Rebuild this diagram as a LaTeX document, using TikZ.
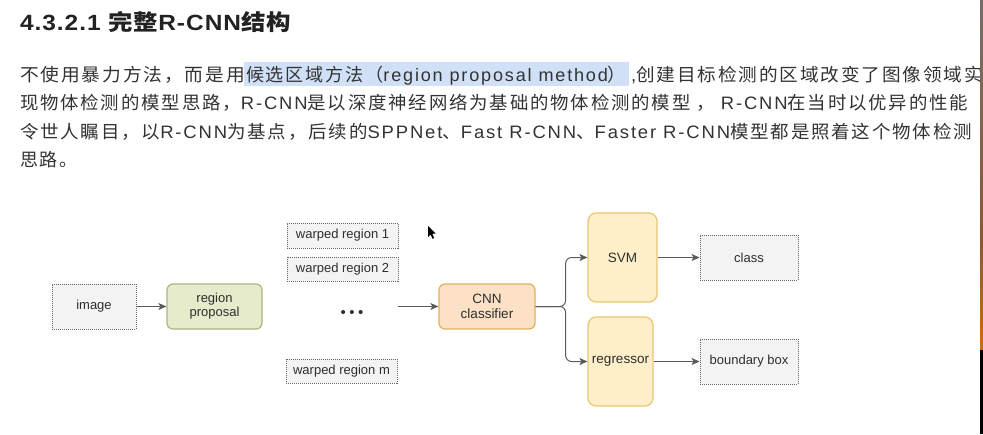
\documentclass[tikz,border=0pt]{standalone}
\usepackage{fontspec}
\usepackage{graphicx}
\setmainfont{Liberation Sans}
\newfontfamily\cjk{Noto Sans CJK SC}[LetterSpace=10]
\newfontfamily\lat{Liberation Sans}[LetterSpace=10]
\newfontfamily\cjkt{Noto Sans CJK SC}[LetterSpace=4]
\newfontfamily\latt{Liberation Sans}[LetterSpace=4]
\usetikzlibrary{arrows.meta}
\definecolor{txt}{HTML}{333333}
\definecolor{dtxt}{HTML}{2E2E2E}
\definecolor{ttl}{HTML}{222222}
\definecolor{hl}{HTML}{CFE0F7}
\definecolor{boxgray}{HTML}{F3F3F3}
\definecolor{dotc}{HTML}{666666}
\definecolor{grfill}{HTML}{E5EBCB}
\definecolor{grdraw}{HTML}{A9B682}
\definecolor{orfill}{HTML}{FCE1C6}
\definecolor{ordraw}{HTML}{E2B15A}
\definecolor{yefill}{HTML}{FEEFC8}
\definecolor{yedraw}{HTML}{E9C672}
\definecolor{linec}{HTML}{5A5A5A}
\newcommand\fitw[2]{\resizebox{#1}{\height}{#2}}
\newcommand\ptxt{\fontsize{18}{20}\selectfont\lat\color{txt}}
\tikzset{
  para/.style={anchor=base west, inner sep=0pt, outer sep=0pt},
  dbox/.style={draw=dotc, line width=0.9pt, dash pattern=on 1pt off 1pt, fill=boxgray,
    text=dtxt, font=\fontsize{13}{15}\selectfont, align=center, inner sep=0pt},
  grbox/.style={draw=grdraw, line width=1.2pt, fill=grfill, rounded corners=6pt,
    text=dtxt, font=\fontsize{13}{14}\selectfont, align=center, inner sep=0pt},
  orbox/.style={draw=ordraw, line width=1.2pt, fill=orfill, rounded corners=6pt,
    text=dtxt, font=\fontsize{13.5}{15}\selectfont, align=center, inner sep=0pt},
  yebox/.style={draw=yedraw, line width=1.2pt, fill=yefill, rounded corners=8pt,
    text=dtxt, font=\fontsize{13.5}{15}\selectfont, align=center, inner sep=0pt},
  conn/.style={draw=linec, line width=1pt, -{Stealth[length=8pt,width=7pt,inset=2pt]}},
}
\begin{document}
\begin{tikzpicture}[x=1pt,y=-1pt]
\useasboundingbox (0,0) rectangle (983,434);
\fill[white] (0,0) rectangle (983,434);

% title
\node[para, text=ttl] (title) at (20,30.5)
  {\fitw{271pt}{\fontsize{22}{24}\selectfont\latt\bfseries 4.3.2.1 {\cjkt 完整}R-CNN{\cjkt 结构}}};

% highlight
\fill[hl] (244,62) rectangle (629,86);

% paragraph line 1
\node[para] (l1a) at (20,81) {\fitw{225pt}{\ptxt{\cjk 不使用暴力方法，而是用}}};
\node[para] (l1b) at (246,81) {\fitw{380pt}{\ptxt{\cjk 候选区域方法（}region proposal method{\cjk ）}}};
\node[para] (l1c) at (631,81) {\fitw{352pt}{\ptxt ,{\cjk 创建目标检测的区域改变了图像领域实}}};
% line 2
\node[para] (l2) at (20,109.5) {\fitw{948pt}{\ptxt{\cjk 现物体检测的模型思路，}R-CNN{\cjk 是以深度神经网络为基础的物体检测的模型 ， }R-CNN{\cjk 在当时以优异的性能}}};
% line 3
\node[para] (l3) at (20,138) {\fitw{952pt}{\ptxt{\cjk 令世人瞩目，以}R-CNN{\cjk 为基点，后续的}SPPNet{\cjk 、}Fast R-CNN{\cjk 、}Faster R-CNN{\cjk 模型都是照着这个物体检测}}};
% line 4
\node[para] (l4) at (20,166.5) {\ptxt{\cjk 思路。}};

% diagram
\node[dbox, minimum width=84pt, minimum height=45pt] (image) at (94,306.5) {image};
\node[grbox, minimum width=95pt, minimum height=45pt] (prop) at (214.5,306.5) {region\\proposal};
\node[dbox, minimum width=111pt, minimum height=25pt] (w1) at (342.5,235.5) {warped region 1};
\node[dbox, minimum width=111pt, minimum height=24pt] (w2) at (342.5,269) {warped region 2};
\node[dbox, minimum width=111pt, minimum height=24pt] (wm) at (341.5,371) {warped region m};
\node[text=dtxt, inner sep=0pt, font=\fontsize{15}{16}\selectfont] (dots) at (352,314) {\textbullet\hspace{3.5pt}\textbullet\hspace{3.5pt}\textbullet};
\coordinate (lstart) at (398,306.5);
\node[orbox, minimum width=96pt, minimum height=45pt] (cnn) at (487,306.5) {CNN\\classifier};
\node[yebox, minimum width=69pt, minimum height=89pt] (svm) at (622.5,257.5) {SVM};
\node[yebox, minimum width=65pt, minimum height=89pt] (reg) at (620.5,361.5) {regressor};
\node[dbox, minimum width=98pt, minimum height=45pt] (cls) at (749,257.5) {class};
\node[dbox, minimum width=98pt, minimum height=45pt] (bb) at (749,361.5) {boundary box};

\draw[conn] (image.east) -- (prop.west);
\draw[conn] (lstart) -- (cnn.west);
\draw[conn, rounded corners=6pt] (cnn.east) -- ++(30,0) |- (svm.west);
\draw[conn, rounded corners=6pt] (cnn.east) -- ++(30,0) |- (reg.west);
\draw[conn] (svm.east) -- (cls.west);
\draw[conn] (reg.east) -- (bb.west);

% mouse cursor
\fill[black] (428,226) -- (428,237) -- (430.6,234.6) -- (432.6,238.8) -- (434.2,238) -- (432.2,233.8) -- (435.6,233.6) -- cycle;

% right edge strip
\shade[top color={rgb,255:red,120;green,110;blue,105}, bottom color={rgb,255:red,140;green,90;blue,50}] (980,0) rectangle (983,240);
\shade[top color={rgb,255:red,140;green,90;blue,50}, bottom color={rgb,255:red,200;green,110;blue,20}] (980,240) rectangle (983,350);
\fill[black] (980,350) rectangle (983,434);
\end{tikzpicture}
\end{document}
